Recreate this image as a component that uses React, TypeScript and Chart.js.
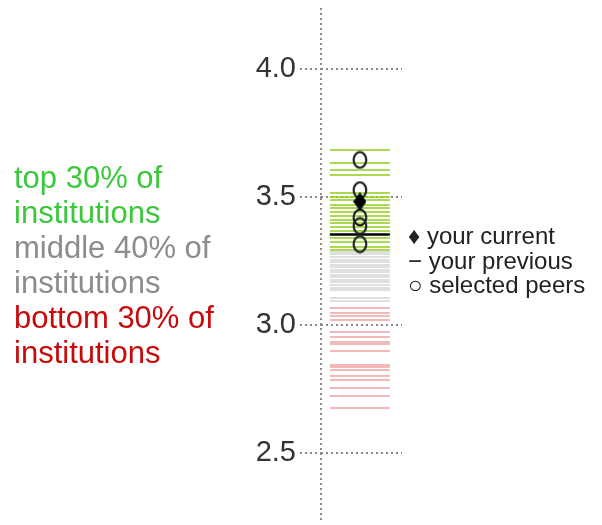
import React, { useEffect, useRef } from "react";
import { Chart, registerables } from "chart.js";

Chart.register(...registerables);

// ---- data ----
const TOP_GROUP = [3.684, 3.633, 3.605, 3.586, 3.516, 3.5, 3.488, 3.469, 3.457, 3.441, 3.426, 3.41, 3.398, 3.383, 3.367, 3.34, 3.324, 3.305, 3.293];
const MIDDLE_GROUP = [3.285, 3.277, 3.266, 3.254, 3.246, 3.234, 3.227, 3.215, 3.207, 3.195, 3.1875, 3.176, 3.168, 3.156, 3.145, 3.137, 3.105, 3.094];
const BOTTOM_GROUP = [3.066, 3.047, 3.035, 3.02, 2.973, 2.953, 2.934, 2.926, 2.898, 2.844, 2.836, 2.824, 2.801, 2.785, 2.754, 2.723, 2.676];
const YOUR_CURRENT = [3.482];
const YOUR_PREVIOUS = [3.354];
const SELECTED_PEERS = [3.645, 3.527, 3.42, 3.387, 3.316];
const Y_TICKS = [2.5, 3.0, 3.5, 4.0];
const GROUP_LABELS = [
  ["top 30% of", "institutions"],
  ["middle 40% of", "institutions"],
  ["bottom 30% of", "institutions"],
];
const MARKER_LABELS = ["♦ your current", "− your previous", "○ selected peers"];

const STRIP_X = 0.48;
const FONT = "'Liberation Sans', Arial, Helvetica, sans-serif";
const GROUP_COLORS = ["#3cc83c", "#8c8c8c", "#c80a0a"];

function makeEllipse(): HTMLCanvasElement {
  const c = document.createElement("canvas");
  c.width = 16;
  c.height = 19;
  const ctx = c.getContext("2d")!;
  ctx.strokeStyle = "#222";
  ctx.lineWidth = 2.2;
  ctx.beginPath();
  ctx.ellipse(8, 9.5, 6.3, 7.8, 0, 0, Math.PI * 2);
  ctx.stroke();
  return c;
}

function makeDiamond(): HTMLCanvasElement {
  const c = document.createElement("canvas");
  c.width = 13;
  c.height = 19;
  const ctx = c.getContext("2d")!;
  ctx.fillStyle = "#000";
  ctx.beginPath();
  ctx.moveTo(6.5, 0);
  ctx.lineTo(13, 9.5);
  ctx.lineTo(6.5, 19);
  ctx.lineTo(0, 9.5);
  ctx.closePath();
  ctx.fill();
  return c;
}

const axisLinePlugin = {
  id: "dottedAxisLine",
  beforeDatasetsDraw(chart: any) {
    const { ctx, chartArea } = chart;
    ctx.save();
    ctx.strokeStyle = "#8a8a8a";
    ctx.lineWidth = 2;
    ctx.setLineDash([2, 3]);
    ctx.beginPath();
    ctx.moveTo(chartArea.left, chartArea.top + 3);
    ctx.lineTo(chartArea.left, chartArea.bottom + 6);
    ctx.stroke();
    ctx.restore();
  },
};

function stripDataset(values: number[], color: string, width: number) {
  return {
    type: "scatter" as const,
    data: values.map((v) => ({ x: STRIP_X, y: v })),
    pointStyle: "line",
    pointRadius: 30,
    pointHoverRadius: 30,
    pointBorderWidth: width,
    pointBorderColor: color,
    pointBackgroundColor: color,
    showLine: false,
    order: 3,
  };
}

export default function App() {
  const canvasRef = useRef<HTMLCanvasElement | null>(null);

  useEffect(() => {
    if (!canvasRef.current) return;
    const ellipse = makeEllipse();
    const diamond = makeDiamond();
    const chart = new Chart(canvasRef.current, {
      type: "scatter",
      data: {
        datasets: [
          {
            data: YOUR_CURRENT.map((v) => ({ x: STRIP_X, y: v })),
            pointStyle: diamond as any,
            pointRadius: 9,
            order: 0,
          },
          {
            data: SELECTED_PEERS.map((v) => ({ x: STRIP_X, y: v })),
            pointStyle: ellipse as any,
            pointRadius: 9,
            order: 1,
          },
          {
            data: YOUR_PREVIOUS.map((v) => ({ x: STRIP_X, y: v })),
            pointStyle: "line",
            pointRadius: 30,
            pointBorderWidth: 2.5,
            pointBorderColor: "#000",
            order: 2,
          },
          stripDataset(TOP_GROUP, "rgba(150,208,35,0.8)", 2),
          stripDataset(MIDDLE_GROUP, "rgba(175,175,175,0.4)", 2),
          stripDataset(BOTTOM_GROUP, "rgba(220,80,80,0.4)", 2),
        ] as any,
      },
      options: {
        animation: false,
        responsive: false,
        devicePixelRatio: 1,
        layout: { autoPadding: false, padding: { left: 201, right: 200, top: 5, bottom: 8 } },
        plugins: { legend: { display: false }, tooltip: { enabled: false } },
        events: [],
        scales: {
          x: { type: "linear", min: 0, max: 1, display: false },
          y: {
            type: "linear",
            min: 2.25,
            max: 4.25,
            afterBuildTicks: (scale: any) => {
              scale.ticks = Y_TICKS.map((v) => ({ value: v }));
            },
            afterFit: (scale: any) => {
              scale.width = 120;
              scale.paddingTop = 0;
              scale.paddingBottom = 0;
            },
            grid: {
              color: "#8a8a8a",
              lineWidth: 2,
              tickLength: 21,
              tickColor: "#8a8a8a",
              tickWidth: 2,
              tickBorderDash: [2, 3],
            },
            border: { display: false, dash: [2, 3] },
            ticks: {
              padding: 4,
              color: "#333",
              font: { family: FONT, size: 29 },
              callback: (v: any) => Number(v).toFixed(1),
            },
          },
        },
      },
      plugins: [axisLinePlugin],
    });
    return () => chart.destroy();
  }, []);

  return (
    <div style={{ position: "absolute", left: 0, top: 0, width: 602, height: 525, background: "#fff" }}>
      <canvas ref={canvasRef} width={602} height={525} style={{ position: "absolute", left: 0, top: 0 }} />
      <div
        style={{
          position: "absolute",
          left: 14,
          top: 160,
          fontFamily: FONT,
          fontSize: 31,
          lineHeight: "35px",
          whiteSpace: "nowrap",
        }}
      >
        {GROUP_LABELS.map((lines, i) =>
          lines.map((t, j) => (
            <div key={i + "-" + j} style={{ color: GROUP_COLORS[i] }}>
              {t}
            </div>
          ))
        )}
      </div>
      <div
        style={{
          position: "absolute",
          left: 408,
          top: 224,
          fontFamily: FONT,
          fontSize: 24,
          lineHeight: "24.5px",
          color: "#222",
          whiteSpace: "nowrap",
        }}
      >
        {MARKER_LABELS.map((t, i) => (
          <div key={i}>{t}</div>
        ))}
      </div>
    </div>
  );
}
